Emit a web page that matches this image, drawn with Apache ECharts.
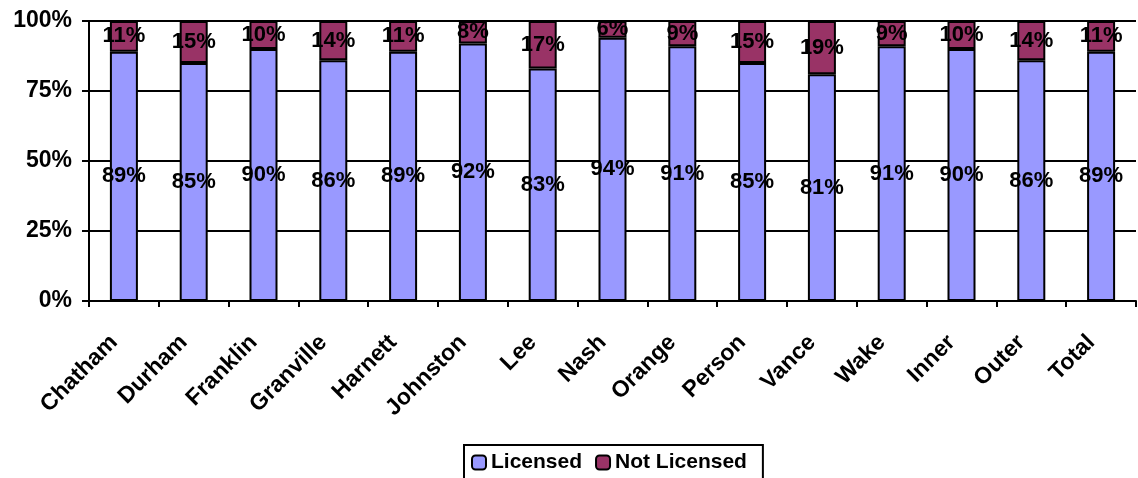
<!DOCTYPE html>
<html><head><meta charset="utf-8">
<script src="https://cdn.jsdelivr.net/npm/echarts@6/dist/echarts.min.js"></script>
<style>html,body{margin:0;padding:0;background:#fff}#c{width:1138px;height:478px}</style>
</head><body><div id="c"></div>
<script>
const categories = ["Chatham","Durham","Franklin","Granville","Harnett","Johnston","Lee","Nash","Orange","Person","Vance","Wake","Inner","Outer","Total"];
const licensed = [89,85,90,86,89,92,83,94,91,85,81,91,90,86,89];
const notLicensed = [11,15,10,14,11,8,17,6,9,15,19,9,10,14,11];
const seriesNames = ["Licensed","Not Licensed"];
const FONT = "Arial, 'Liberation Sans', sans-serif";
const chart = echarts.init(document.getElementById('c'));
const lbl = {show:true,position:'inside',formatter:'{c}%',color:'#000',fontWeight:'bold',fontSize:22,fontFamily:FONT};
chart.setOption({
  animation:false,
  grid:{left:89,right:2,top:21,bottom:177},
  legend:{
    data:seriesNames, left:464, top:445,
    itemWidth:14,itemHeight:14,itemGap:13,
    borderColor:'#000',borderWidth:2,padding:[7,16,14,7],
    textStyle:{fontFamily:FONT,fontWeight:'bold',fontSize:21,color:'#000',padding:[0,0,0,0]},
    itemStyle:{borderColor:'#000',borderWidth:2}
  },
  xAxis:{
    type:'category',data:categories,
    axisLine:{lineStyle:{color:'#000',width:2}},
    axisTick:{show:true,length:6,inside:false,lineStyle:{color:'#000',width:2}},
    axisLabel:{rotate:45,interval:0,margin:28,padding:[0,14,0,0],color:'#000',fontFamily:FONT,fontWeight:'bold',fontSize:23}
  },
  yAxis:{
    type:'value',min:0,max:100,interval:25,
    axisLine:{show:true,lineStyle:{color:'#000',width:2}},
    axisTick:{show:true,length:7,lineStyle:{color:'#000',width:2}},
    splitLine:{show:true,lineStyle:{color:'#000',width:2}},
    axisLabel:{formatter:'{value}%',margin:17,color:'#000',fontFamily:FONT,fontWeight:'bold',fontSize:23}
  },
  series:[
    {name:seriesNames[0],type:'bar',stack:'a',data:licensed,barWidth:28,
     itemStyle:{color:'#9999FF',borderColor:'#000',borderWidth:2},label:lbl},
    {name:seriesNames[1],type:'bar',stack:'a',data:notLicensed,barWidth:28,
     itemStyle:{color:'#993366',borderColor:'#000',borderWidth:2},label:lbl}
  ]
});
</script></body></html>
